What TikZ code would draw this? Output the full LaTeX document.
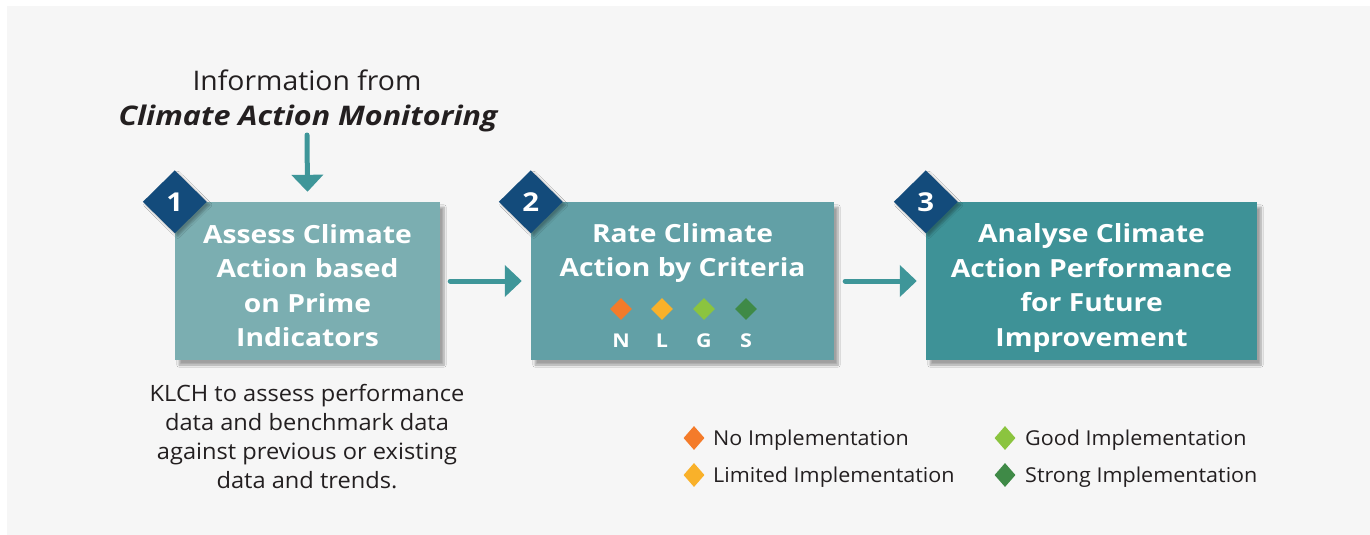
\documentclass[tikz,border=0pt]{standalone}
\usepackage{fontspec}
\setmainfont{Open Sans}[FakeStretch=1.05]
\newfontfamily\widefont{Open Sans}[FakeStretch=1.13]
\usetikzlibrary{arrows.meta,shapes.geometric,shadows.blur}
\definecolor{bgray}{HTML}{F6F6F6}
\definecolor{boxA}{HTML}{7BAEB1}
\definecolor{boxB}{HTML}{62A0A6}
\definecolor{boxC}{HTML}{3E9297}
\definecolor{navy}{HTML}{134B7B}
\definecolor{teal}{HTML}{3E9699}
\definecolor{ink}{HTML}{231F20}
\definecolor{cN}{HTML}{F47B2A}
\definecolor{cL}{HTML}{F9B12A}
\definecolor{cG}{HTML}{8BC43F}
\definecolor{cS}{HTML}{3F8A47}
\tikzset{
  stepbox/.style={rectangle, inner sep=0pt, draw=none,
    blur shadow={shadow xshift=4pt, shadow yshift=-5pt, shadow blur steps=8, shadow opacity=35}},
  boxtxt/.style={text=white, align=center, inner sep=0pt,
    font=\widefont\fontsize{25}{34.5}\selectfont\bfseries},
  numdia/.style={diamond, fill=navy, minimum width=64pt, minimum height=63pt, inner sep=0pt,
    text=white, font=\widefont\fontsize{26}{28}\selectfont\bfseries,
    blur shadow={shadow xshift=3pt, shadow yshift=-3pt, shadow blur steps=6, shadow opacity=30}},
  flowarr/.style={draw=teal, line width=5pt, line cap=round,
    -{Triangle[length=17pt, width=31pt]}},
  smalldia/.style={diamond, minimum width=22pt, minimum height=22pt, inner sep=0pt},
  letter/.style={text=white, inner sep=0pt, font=\widefont\fontsize{19}{21}\selectfont\bfseries},
  legdia/.style={diamond, minimum width=21pt, minimum height=24pt, inner sep=0pt},
  legtxt/.style={anchor=west, inner sep=0pt, text=ink, font=\fontsize{20.5}{24}\selectfont},
}
\begin{document}
\begin{tikzpicture}[x=1pt, y=-1pt]
\useasboundingbox (0,0) rectangle (1370,535);
\fill[white] (0,0) rectangle (1370,535);
\fill[bgray] (7,6) rectangle (1370,535);

% top information text
\node[inner sep=0pt, text=ink, font=\fontsize{27}{30}\selectfont] (info1) at (307,80) {Information from};
\node[inner sep=0pt, text=ink, font=\widefont\fontsize{27}{30}\selectfont\bfseries\itshape] (info2) at (308,118) {Climate Action Monitoring};
\coordinate (instart) at (307,135);

% boxes
\node[stepbox, fill=boxA, minimum width=265pt, minimum height=158pt] (b1) at (307.5,281) {};
\node[stepbox, fill=boxB, minimum width=303pt, minimum height=158pt] (b2) at (682.5,281) {};
\node[stepbox, fill=boxC, minimum width=331pt, minimum height=158pt] (b3) at (1091.5,281) {};

\node[boxtxt] (t1) at (307.5,285.5) {Assess Climate\\Action based\\on Prime\\Indicators};
\node[boxtxt] (t2) at (682.5,253) {Rate Climate\\Action by Criteria};
\node[boxtxt] (t3) at (1091.5,288) {Analyse Climate\\Action Performance\\for Future\\Improvement};

% number diamonds
\node[numdia] (d1) at (b1.north west) {1};
\node[numdia] (d2) at (b2.north west) {2};
\node[numdia] (d3) at (b3.north west) {3};

% rating diamonds in box 2
\node[smalldia, fill=cN] (rN) at (621,309) {};
\node[smalldia, fill=cL] (rL) at (662,309) {};
\node[smalldia, fill=cG] (rG) at (704,309) {};
\node[smalldia, fill=cS] (rS) at (746,309) {};
\node[letter] (lN) at (621,340.5) {N};
\node[letter] (lL) at (662,340.5) {L};
\node[letter] (lG) at (704,340.5) {G};
\node[letter] (lS) at (746,340.5) {S};

% arrows
\draw[flowarr] (instart) -- ([yshift=10pt]b1.north);
\draw[flowarr] ([xshift=10pt]b1.east) -- ([xshift=-9pt]b2.west);
\draw[flowarr] ([xshift=11pt]b2.east) -- ([xshift=-9pt]b3.west);

% description
\node[inner sep=0pt, align=center, text=ink, font=\fontsize{22.5}{29}\selectfont] (desc) at (307,437)
  {KLCH to assess performance\\data and benchmark data\\against previous or existing\\data and trends.};

% legend
\node[legdia, fill=cN] (kN) at (694,438) {};
\node[legdia, fill=cL] (kL) at (694,475) {};
\node[legdia, fill=cG] (kG) at (1005,438) {};
\node[legdia, fill=cS] (kS) at (1005,475) {};
\node[legtxt] (xN) at (713,440) {No Implementation};
\node[legtxt] (xL) at (713,477) {Limited Implementation};
\node[legtxt] (xG) at (1025,440) {Good Implementation};
\node[legtxt] (xS) at (1025,477) {Strong Implementation};
\end{tikzpicture}
\end{document}
